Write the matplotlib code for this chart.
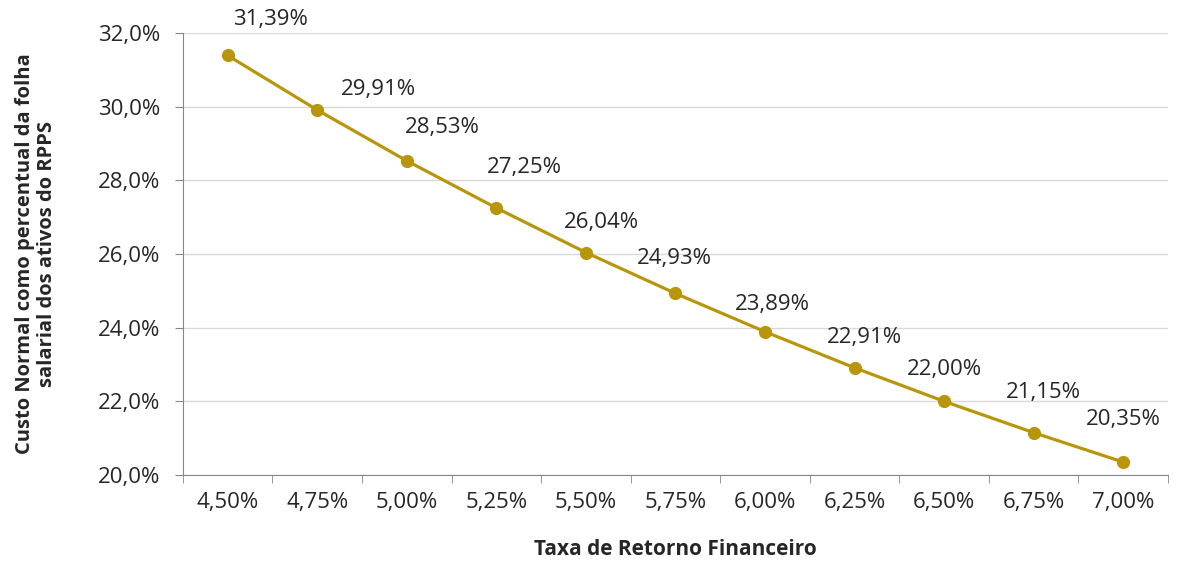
import matplotlib
matplotlib.use("Agg")
import matplotlib.pyplot as plt
from matplotlib.ticker import FuncFormatter, FixedLocator

plt.rcParams['font.family'] = ['Open Sans', 'DejaVu Sans']

# data
taxas = ["4,50%", "4,75%", "5,00%", "5,25%", "5,50%", "5,75%",
         "6,00%", "6,25%", "6,50%", "6,75%", "7,00%"]
custo = [31.39, 29.91, 28.53, 27.25, 26.04, 24.93,
         23.89, 22.91, 22.00, 21.15, 20.35]

# label offsets (pixels) as placed in the original
label_dx = [43, 61, 35, 28, 16, -1, 7, 10, 0, 10, 0]
label_dy = [36, 20, 33, 40, 30, 35, 27, 30, 32, 40, 43]

gold = "#B8960C"
axis_gray = "#868686"
txt = "#262626"

fig = plt.figure(figsize=(11.78, 5.65), dpi=100)
ax = fig.add_axes([0.1553, 0.1593, 0.8362, 0.7823])

x = list(range(len(taxas)))
ax.plot(x, custo, color=gold, lw=2.3, marker="o", ms=8.5, zorder=3)

for xi, v, dx, dy in zip(x, custo, label_dx, label_dy):
    ax.annotate(f"{v:.2f}%".replace(".", ","), (xi, v), xytext=(dx, dy),
                textcoords="offset pixels", ha="center", va="center",
                fontsize=16, color=txt)

ax.set_xlim(-0.5, len(taxas) - 0.5)
ax.set_ylim(20, 32)
ax.set_yticks([20, 22, 24, 26, 28, 30, 32])
ax.yaxis.set_major_formatter(FuncFormatter(lambda v, p: f"{v:.1f}%".replace(".", ",")))
ax.yaxis.grid(True, color="#D9D9D9", lw=1)
ax.set_axisbelow(True)

ax.set_xticks(x)
ax.set_xticklabels(taxas)
ax.xaxis.set_minor_locator(FixedLocator([i - 0.5 for i in range(len(taxas) + 1)]))
ax.tick_params(axis="x", which="major", length=0, pad=12, labelsize=16, labelcolor=txt)
ax.tick_params(axis="x", which="minor", length=6, color=axis_gray)
ax.tick_params(axis="y", length=6, color=axis_gray, labelsize=16, labelcolor=txt, pad=10)

for s in ["top", "right"]:
    ax.spines[s].set_visible(False)
for s in ["left", "bottom"]:
    ax.spines[s].set_color(axis_gray)

ax.set_xlabel("Taxa de Retorno Financeiro", fontsize=15, fontweight="bold",
              color=txt, labelpad=19)
ax.set_ylabel("Custo Normal como percentual da folha\nsalarial dos ativos do RPPS",
              fontsize=14.5, fontweight="bold", color=txt, linespacing=1.1)
ax.yaxis.set_label_coords(-0.128, 0.5)

fig.savefig("out.png", dpi=100, facecolor="white")
